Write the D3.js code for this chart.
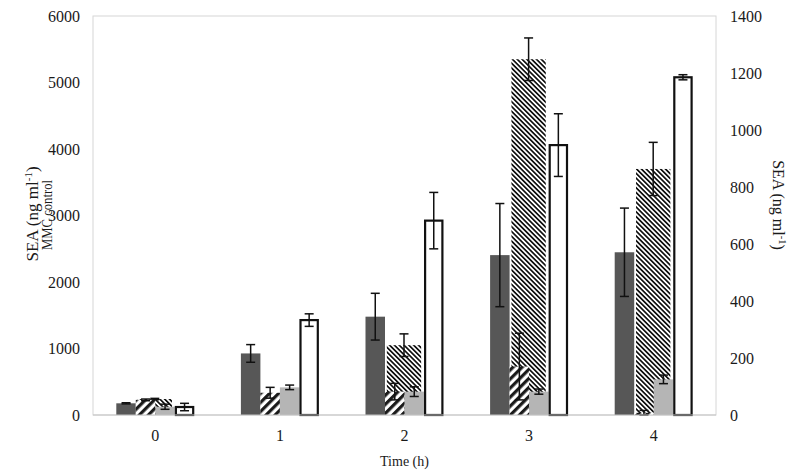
<!DOCTYPE html>
<html lang="en">
<head>
<meta charset="utf-8">
<title>SEA over time</title>
<script src="https://d3js.org/d3.v7.min.js"></script>
<style>
    body { margin: 0; background: #fff; }
    text { font-family: "Liberation Serif", "Times New Roman", serif; fill: #1a1a1a; }
</style>
</head>
<body>
<script>
    // time points (h)
    var categories = ["0", "1", "2", "3", "4"];

    // MMC control, left axis (ng/ml)
    var mmcValues = [240, 280, 1050, 5350, 3700];
    var mmcErrors = [10, 40, 170, 320, 400];

    // other treatments, right axis (ng/ml)
    var darkValues  = [41, 216, 345, 561, 571];
    var darkErrors  = [2, 31, 82, 181, 155];
    var wideValues  = [53, 78, 82, 170, 8];
    var wideErrors  = [3, 19, 29, 117, 8];
    var lightValues = [29, 97, 82, 82, 125];
    var lightErrors = [9, 8, 17, 9, 15];
    var openValues  = [28, 333, 682, 947, 1185];
    var openErrors  = [13, 22, 99, 110, 9];

    var leftTicks = [0, 1000, 2000, 3000, 4000, 5000, 6000];
    var rightTicks = [0, 200, 400, 600, 800, 1000, 1200, 1400];

    var width = 794,
        height = 473,
        plotLeft = 93,
        plotRight = 716,
        plotTop = 16,
        plotBottom = 415;

    var svg = d3.select("body").append("svg")
        .attr("width", width)
        .attr("height", height);

    var defs = svg.append("defs");

    var dense = defs.append("pattern")
        .attr("id", "dense")
        .attr("width", 3.4)
        .attr("height", 3.4)
        .attr("patternUnits", "userSpaceOnUse")
        .attr("patternTransform", "rotate(-45)");
    dense.append("rect").attr("width", 3.4).attr("height", 3.4).attr("fill", "#fff");
    dense.append("rect").attr("width", 1.7).attr("height", 3.4).attr("fill", "#111");

    var wide = defs.append("pattern")
        .attr("id", "wide")
        .attr("width", 6.4)
        .attr("height", 6.4)
        .attr("patternUnits", "userSpaceOnUse")
        .attr("patternTransform", "rotate(45)");
    wide.append("rect").attr("width", 6.4).attr("height", 6.4).attr("fill", "#fff");
    wide.append("rect").attr("width", 3.2).attr("height", 6.4).attr("fill", "#1a1a1a");

    var x0 = d3.scaleBand()
        .domain(categories)
        .range([plotLeft, plotRight])
        .paddingInner(0.374)
        .paddingOuter(0.187);

    var x1 = d3.scaleBand()
        .domain([0, 1, 2, 3])
        .range([0, x0.bandwidth()]);

    var yLeft = d3.scaleLinear().domain([0, 6000]).range([plotBottom, plotTop]);
    var yRight = d3.scaleLinear().domain([0, 1400]).range([plotBottom, plotTop]);

    // plot frame
    svg.append("rect")
        .attr("x", plotLeft)
        .attr("y", plotTop)
        .attr("width", plotRight - plotLeft)
        .attr("height", plotBottom - plotTop)
        .attr("fill", "none")
        .attr("stroke", "#d6d6d6")
        .attr("stroke-width", 1);

    function drawErrors(g, cx, v, err, y) {
        var lo = y(v - err), hi = y(v + err);
        g.append("line").attr("x1", cx).attr("x2", cx).attr("y1", lo).attr("y2", hi);
        g.append("line").attr("x1", cx - 4.5).attr("x2", cx + 4.5).attr("y1", lo).attr("y2", lo);
        g.append("line").attr("x1", cx - 4.5).attr("x2", cx + 4.5).attr("y1", hi).attr("y2", hi);
    }

    // primary series: MMC control
    var mmcWidth = x0.bandwidth() * 0.44;
    var primary = svg.append("g");
    primary.selectAll("rect")
        .data(mmcValues)
        .enter().append("rect")
        .attr("x", function (d, i) { return x0(categories[i]) + x0.bandwidth() / 2 - mmcWidth / 2 - 0.5; })
        .attr("y", function (d) { return yLeft(d); })
        .attr("width", mmcWidth)
        .attr("height", function (d) { return plotBottom - yLeft(d); })
        .attr("fill", "url(#dense)");

    var primaryErr = svg.append("g").attr("stroke", "#111").attr("stroke-width", 1.5);
    mmcValues.forEach(function (d, i) {
        var cx = x0(categories[i]) + x0.bandwidth() / 2 - 0.5;
        drawErrors(primaryErr, cx, d, mmcErrors[i], yLeft);
    });

    // secondary series
    var series = [
        { values: darkValues,  errors: darkErrors,  fill: "#575757", stroke: "none", sw: 0 },
        { values: wideValues,  errors: wideErrors,  fill: "url(#wide)", stroke: "none", sw: 0 },
        { values: lightValues, errors: lightErrors, fill: "#b5b5b5", stroke: "none", sw: 0 },
        { values: openValues,  errors: openErrors,  fill: "#fff", stroke: "#111", sw: 2.2 }
    ];

    series.forEach(function (s, k) {
        var g = svg.append("g");
        g.selectAll("rect")
            .data(s.values)
            .enter().append("rect")
            .attr("x", function (d, i) { return x0(categories[i]) + x1(k) + s.sw / 2; })
            .attr("y", function (d) { return yRight(d); })
            .attr("width", x1.bandwidth() - s.sw)
            .attr("height", function (d) { return plotBottom - yRight(d); })
            .attr("fill", s.fill)
            .attr("stroke", s.stroke)
            .attr("stroke-width", s.sw);

        var e = svg.append("g").attr("stroke", "#111").attr("stroke-width", 1.5);
        s.values.forEach(function (d, i) {
            var cx = x0(categories[i]) + x1(k) + x1.bandwidth() / 2;
            drawErrors(e, cx, d, s.errors[i], yRight);
        });
    });

    // baseline
    svg.append("line")
        .attr("x1", plotLeft).attr("x2", plotRight)
        .attr("y1", plotBottom).attr("y2", plotBottom)
        .attr("stroke", "#c4c4c4")
        .attr("stroke-width", 1.2);

    // axes
    var leftAxis = svg.append("g")
        .attr("transform", "translate(" + plotLeft + ",0)")
        .call(d3.axisLeft(yLeft).tickValues(leftTicks).tickFormat(d3.format("d")).tickSize(0).tickPadding(13));
    var rightAxis = svg.append("g")
        .attr("transform", "translate(" + plotRight + ",0)")
        .call(d3.axisRight(yRight).tickValues(rightTicks).tickFormat(d3.format("d")).tickSize(0).tickPadding(14));
    var bottomAxis = svg.append("g")
        .attr("transform", "translate(0," + plotBottom + ")")
        .call(d3.axisBottom(x0).tickSize(0).tickPadding(15));

    [leftAxis, rightAxis, bottomAxis].forEach(function (a) {
        a.select(".domain").remove();
        a.selectAll("text")
            .attr("font-family", "Liberation Serif, Times New Roman, serif")
            .attr("font-size", 16)
            .attr("fill", "#1a1a1a");
    });

    // axis titles
    var lt = svg.append("text")
        .attr("transform", "translate(38,214) rotate(-90)")
        .attr("text-anchor", "middle")
        .attr("font-size", 17);
    lt.append("tspan").text("SEA (ng ml");
    lt.append("tspan").attr("font-size", 11).attr("dy", -6).text("-1");
    lt.append("tspan").attr("dy", 6).text(")");
    svg.append("text")
        .attr("transform", "translate(52,215) rotate(-90) scale(0.82,1)")
        .attr("text-anchor", "middle")
        .attr("font-size", 15.5)
        .text("MMC control");

    var rt = svg.append("text")
        .attr("transform", "translate(773,205) rotate(90)")
        .attr("text-anchor", "middle")
        .attr("font-size", 16);
    rt.append("tspan").text("SEA (ng ml");
    rt.append("tspan").attr("font-size", 10.5).attr("dy", -6).text("-1");
    rt.append("tspan").attr("dy", 6).text(")");

    svg.append("text")
        .attr("x", (plotLeft + plotRight) / 2)
        .attr("y", 466)
        .attr("text-anchor", "middle")
        .attr("font-size", 14)
        .text("Time (h)");
</script>
</body>
</html>
